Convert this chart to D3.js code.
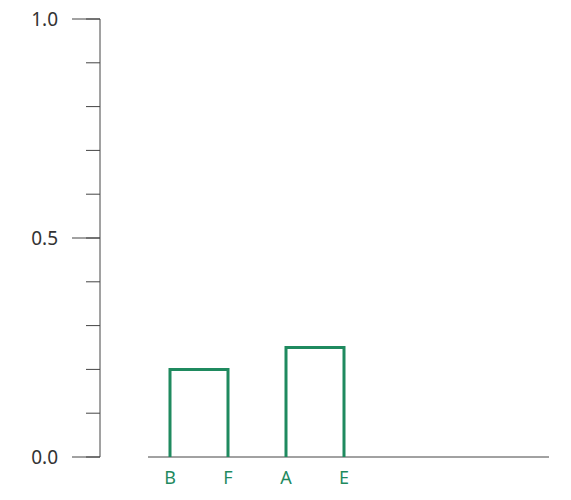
<!DOCTYPE html>
<html><head><meta charset="utf-8">
<script src="https://cdn.jsdelivr.net/npm/d3@7"></script>
<style>body{margin:0;background:#fff}text{font-family:"Noto Sans",sans-serif}</style>
</head><body><svg id="c" width="571" height="500"></svg>
<script>
const leaves = ["B","F","A","E","","",""];
const merges = [{a:"B",b:"F",h:0.2},{a:"A",b:"E",h:0.25}];
const majorTicks = [0,0.5,1.0];
const minorTicks = d3.range(0,1.0001,0.1);
const green = "#1f8a5f", grey = "#444";
const svg = d3.select("#c");
const y = d3.scaleLinear().domain([0,1]).range([457,19]);
const x = d3.scalePoint().domain(leaves.map((d,i)=>i)).range([170,518]);
const xl = l => x(leaves.indexOf(l));
svg.append("line").attr("x1",100).attr("x2",100).attr("y1",y(0)).attr("y2",y(1)).attr("stroke",grey);
svg.selectAll(".mn").data(minorTicks).join("line").attr("x1",86).attr("x2",100).attr("y1",d=>y(d)).attr("y2",d=>y(d)).attr("stroke",grey);
svg.selectAll(".mj").data(majorTicks).join("line").attr("x1",72).attr("x2",100).attr("y1",d=>y(d)).attr("y2",d=>y(d)).attr("stroke",grey);
svg.selectAll(".tl").data(majorTicks).join("text").attr("x",58).attr("y",d=>y(d)+7).attr("text-anchor","end").attr("font-size",19).attr("fill","#333").text(d=>d.toFixed(1));
svg.append("line").attr("x1",148).attr("x2",549).attr("y1",y(0)).attr("y2",y(0)).attr("stroke",grey);
svg.selectAll(".m").data(merges).join("path").attr("fill","none").attr("stroke",green).attr("stroke-width",3)
 .attr("d",d=>`M${xl(d.a)},${y(0)}V${y(d.h)}H${xl(d.b)}V${y(0)}`);
svg.selectAll(".ll").data(leaves.filter(d=>d)).join("text").attr("x",d=>xl(d)).attr("y",484).attr("text-anchor","middle").attr("font-size",18).attr("fill",green).text(d=>d);
</script></body></html>
